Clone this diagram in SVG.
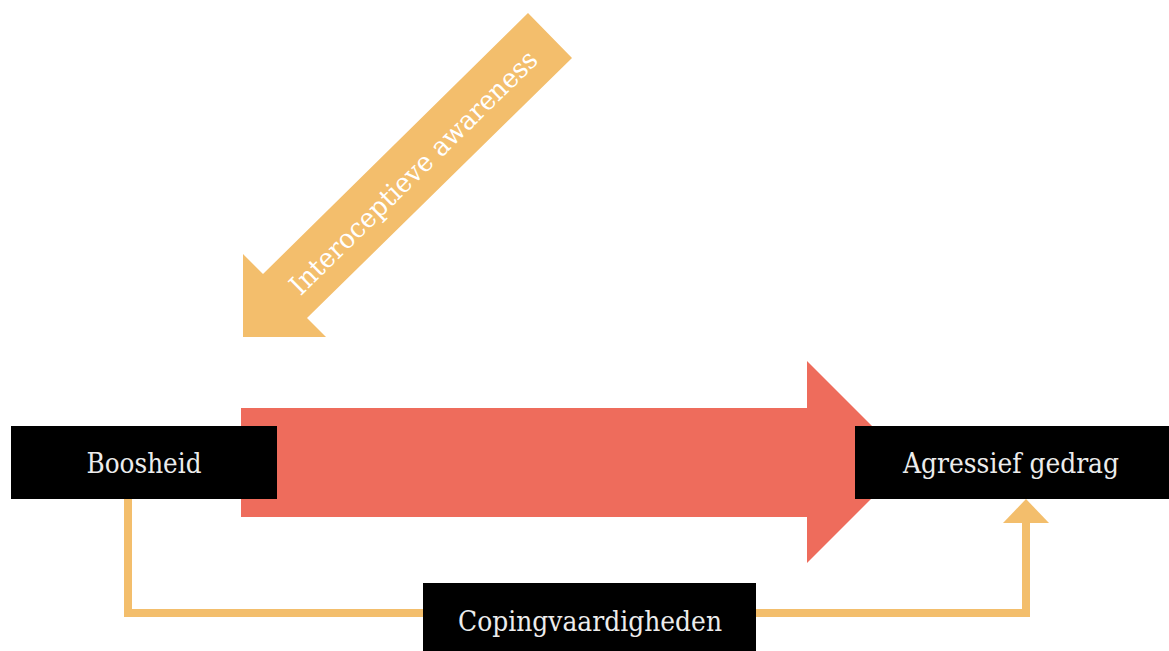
<svg xmlns="http://www.w3.org/2000/svg" width="1169" height="651" viewBox="0 0 1169 651">
  <style>
    .box { fill: #000000; }
    .lbl { font-family: "DejaVu Serif", "Liberation Serif", serif; font-size: 27px; fill: #ececec; text-anchor: middle; font-weight: normal; }
    .orange { fill: #F3BE6C; }
    .red { fill: #EE6C5C; }
    .conn { fill: none; stroke: #F3BE6C; stroke-width: 8; stroke-linejoin: miter; }
  </style>
  <rect width="1169" height="651" fill="#ffffff"/>

  <g id="interoceptive-arrow">
    <polygon class="orange" points="528,13 572,58 307,318 326,337 243,337 243,254 263,274"/>
    <text class="lbl" style="fill:#ffffff" transform="translate(420,179) rotate(-44.5)" textLength="335" lengthAdjust="spacingAndGlyphs">Interoceptieve awareness</text>
  </g>

  <g id="main-arrow">
    <polygon class="red" points="241,408 807,408 807,361 908,462 807,563 807,517 241,517"/>
  </g>

  <g id="connectors">
    <polyline class="conn" points="128,499 128,613 1026,613 1026,521"/>
    <polygon class="orange" points="1003,523 1049,523 1026,499"/>
  </g>

  <g id="boosheid">
    <rect class="box" x="11" y="426" width="266" height="73"/>
    <text class="lbl" x="144" y="473" textLength="115" lengthAdjust="spacingAndGlyphs">Boosheid</text>
  </g>

  <g id="agressief-gedrag">
    <rect class="box" x="855" y="426" width="314" height="73"/>
    <text class="lbl" x="1011" y="473" textLength="216" lengthAdjust="spacingAndGlyphs">Agressief gedrag</text>
  </g>

  <g id="copingvaardigheden">
    <rect class="box" x="423" y="583" width="333" height="68"/>
    <text class="lbl" x="590" y="631" textLength="264" lengthAdjust="spacingAndGlyphs">Copingvaardigheden</text>
  </g>
</svg>
